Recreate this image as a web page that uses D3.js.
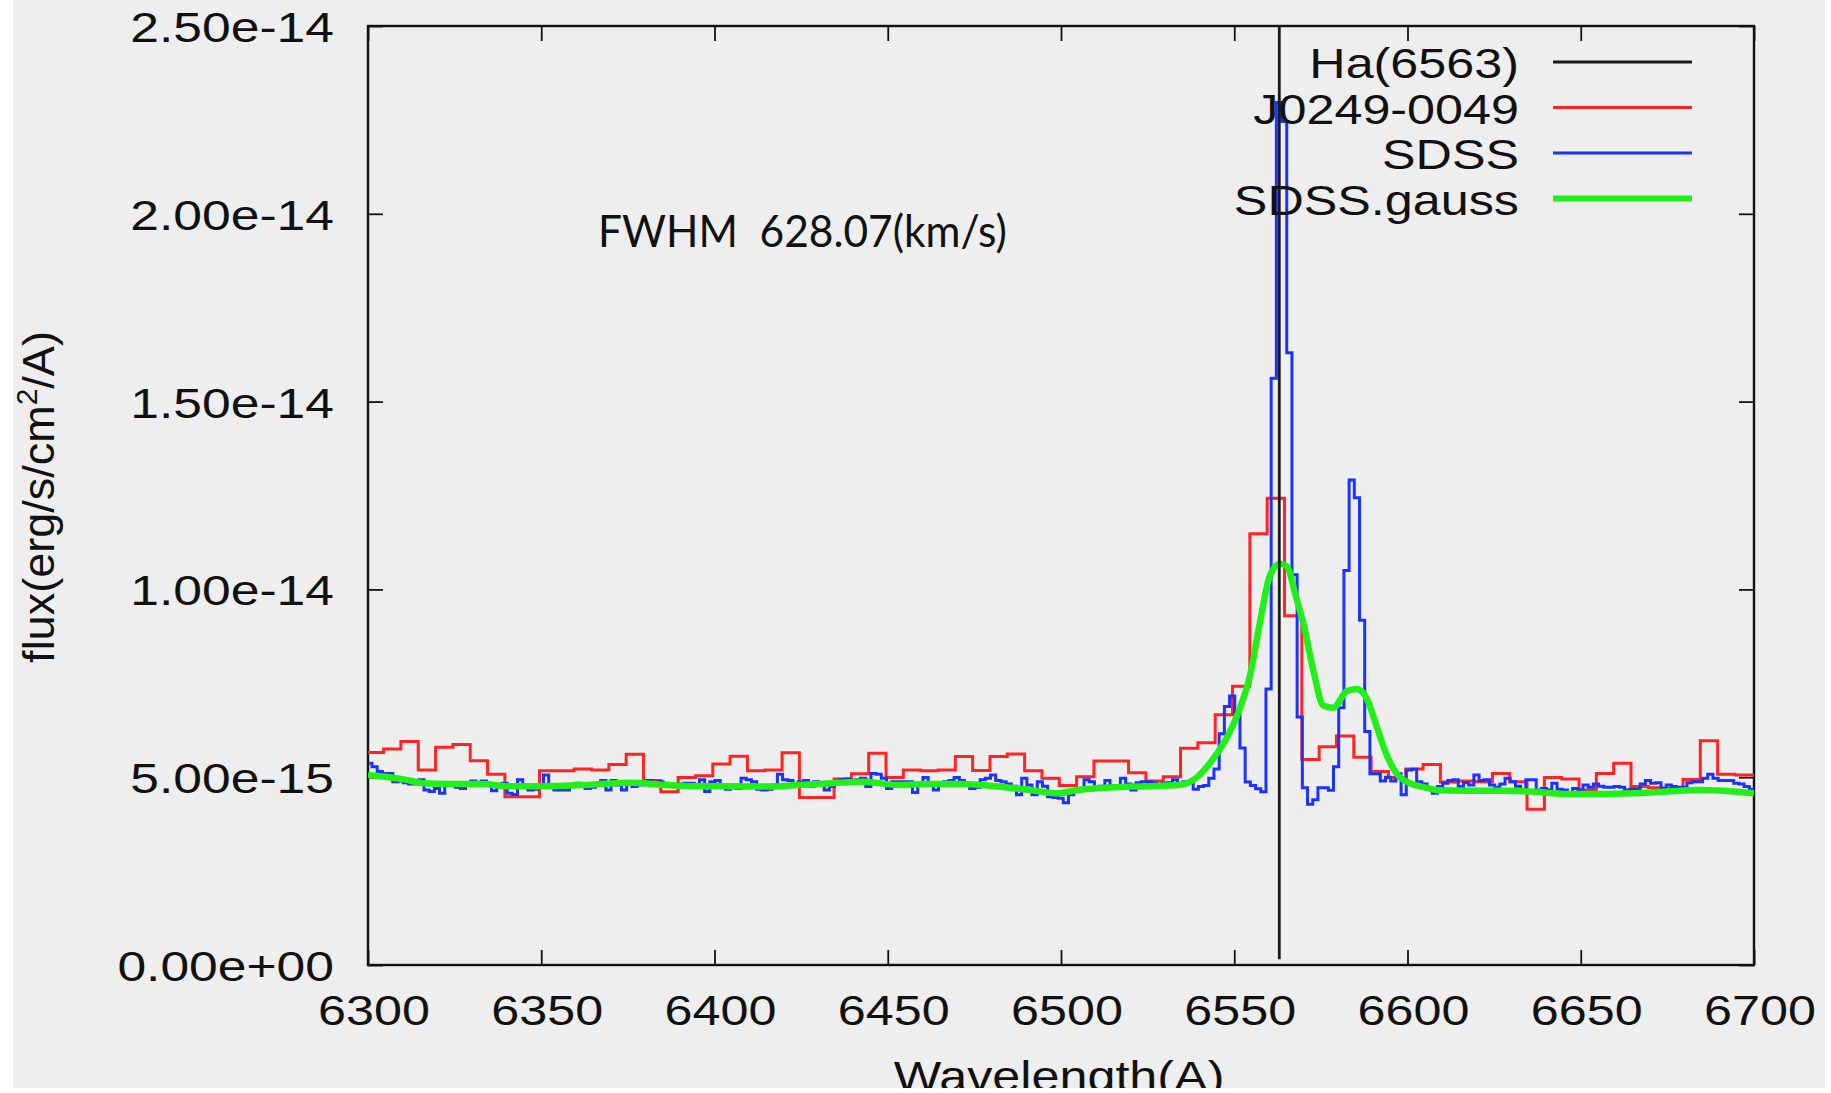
<!DOCTYPE html>
<html>
<head>
<meta charset="utf-8">
<script src="https://cdn.jsdelivr.net/npm/d3@7"></script>
<style>
  html, body { margin: 0; padding: 0; background: #fff; }
  svg { display: block; }
</style>
</head>
<body>
<svg id="chart" width="1831" height="1093"></svg>
<script>
// ---- data (flux in units of 1e-15 erg/s/cm2/A) ----
const fluxUnit = 1e-15;
const xTicks = [6300, 6350, 6400, 6450, 6500, 6550, 6600, 6650, 6700];
const yTicks = [0, 5e-15, 1e-14, 1.5e-14, 2e-14, 2.5e-14];

const seriesNames = ["Ha(6563)", "J0249-0049", "SDSS", "SDSS.gauss"];
const fwhmText = "FWHM  628.07(km/s)";

// H-alpha marker
const haWave = 6563;
const haFlux = [0.15, 25];

// J0249-0049 spectrum, 5 A bins, first bin centre 6297
const redStart = 6297, redStep = 5;
const redFlux = [
  5.66, 5.66, 5.75, 5.95, 5.19, 5.80, 5.87, 5.44, 5.08, 4.48,
  4.48, 5.17, 5.17, 5.22, 5.19, 5.34, 5.61, 4.91, 4.61, 4.99,
  5.04, 5.35, 5.56, 5.17, 5.19, 5.65, 4.46, 4.46, 4.95, 5.09,
  5.64, 4.99, 5.19, 5.17, 5.19, 5.55, 5.18, 5.55, 5.62, 5.17,
  4.97, 4.78, 5.01, 5.43, 5.43, 5.12, 4.90, 5.01, 5.77, 5.92,
  6.66, 7.42, 11.48, 12.43, 9.30, 5.47, 5.81, 6.10, 5.53, 5.15,
  4.99, 5.22, 5.34, 4.87, 4.90, 4.88, 5.10, 4.88, 4.15, 4.99,
  4.95, 4.66, 5.10, 5.37, 4.75, 4.72, 4.70, 4.94, 5.97, 5.08,
  5.06, 5.06
];

// SDSS spectrum, 1.5 A pixels, first pixel centre 6300.4
const sdssStart = 6300.4, sdssStep = 1.5;
const sdssFlux = [
  // 6300 - 6437
  5.37, 5.28, 5.15, 5.10, 5.10, 4.88, 4.90, 4.85, 4.82, 4.82,
  4.93, 4.66, 4.62, 4.70, 4.57, 4.82, 4.82, 4.73, 4.70, 4.84,
  4.90, 4.84, 4.90, 4.84, 4.64, 4.79, 4.84, 4.57, 4.54, 4.93,
  4.79, 4.66, 4.68, 4.73, 5.06, 4.75, 4.66, 4.66, 4.66, 4.79,
  4.84, 4.79, 4.70, 4.73, 4.79, 4.91, 4.66, 4.91, 4.79, 4.66,
  4.82, 4.75, 4.79, 4.88, 4.91, 4.79, 4.88, 4.84, 4.82, 4.79,
  4.82, 4.84, 4.84, 4.79, 4.93, 4.62, 4.88, 4.91, 4.73, 4.68,
  4.79, 4.70, 4.97, 4.93, 4.88, 4.68, 4.66, 4.68, 4.79, 5.08,
  4.93, 4.91, 4.75, 4.88, 4.91, 4.76, 4.88, 4.85, 4.66, 4.75,
  4.85, 4.93,
  // 6438 - 6539
  4.95, 4.88, 4.93, 4.97, 4.75, 5.10, 5.08, 4.97, 4.70, 4.88,
  4.88, 4.88, 4.88, 4.59, 4.79, 4.99, 4.82, 4.66, 4.85, 4.88,
  4.91, 4.99, 4.91, 4.84, 4.70, 4.73, 4.93, 4.97, 5.06, 4.91,
  4.88, 4.82, 4.76, 4.53, 4.97, 4.79, 4.53, 4.88, 4.76, 4.48,
  4.46, 4.44, 4.32, 4.53, 4.62, 4.66, 4.93, 4.88, 4.75, 4.76,
  4.91, 4.76, 4.70, 4.97, 4.82, 4.66, 4.85, 4.88, 4.88, 4.84,
  4.79, 4.84, 4.85, 4.93, 4.79, 4.88, 4.85, 4.68,
  // 6540 - 6597 (Ha + [NII])
  4.75, 4.78, 4.97, 5.22, 6.16, 6.88, 7.16, 6.66, 5.78, 4.87,
  4.78, 4.69, 4.61, 7.35, 15.62, 22.96, 22.46, 16.30, 10.39, 6.60,
  4.72, 4.28, 4.40, 4.72, 4.72, 4.65, 5.28, 6.85, 10.50, 12.91,
  12.44, 9.18, 6.22, 5.09, 5.09, 4.90, 5.00, 4.90, 5.09,
  // 6599 - 6701
  4.53, 5.19, 5.21, 4.88, 4.82, 4.68, 4.57, 4.75, 4.84, 4.91,
  4.93, 4.75, 4.85, 4.79, 5.06, 4.91, 4.93, 4.79, 4.73, 4.82,
  4.97, 4.88, 4.76, 4.66, 4.93, 4.93, 4.66, 4.70, 4.66, 4.84,
  4.68, 4.66, 4.59, 4.70, 4.66, 4.79, 4.73, 4.82, 4.76, 4.73,
  4.73, 4.75, 4.73, 4.66, 4.68, 4.68, 4.82, 4.91, 4.84, 4.85,
  4.70, 4.79, 4.75, 4.73, 4.73, 4.85, 4.88, 4.88, 4.97, 5.08,
  4.97, 4.91, 4.91, 4.91, 4.84, 4.82, 4.75, 4.68, 4.68
];

// gaussian fit to SDSS
const gaussWave = [
  6300, 6305, 6311, 6316, 6323, 6333, 6340, 6350, 6362, 6376,
  6386, 6395, 6405, 6415, 6424, 6434, 6443, 6453, 6462, 6472,
  6481, 6491, 6499, 6505, 6515, 6525, 6534, 6539, 6544, 6548,
  6551.7, 6554.6, 6557.4, 6560.3, 6563.2, 6565.1, 6568, 6569.9, 6572.8, 6575.7,
  6578.6, 6582.4, 6585.3, 6588.2, 6591.1, 6594, 6596.9, 6600.7, 6605.5, 6609.4,
  6617, 6627, 6636, 6646, 6656, 6665, 6675, 6684, 6694, 6700
];
const gaussFlux = [
  5.06, 5.01, 4.93, 4.84, 4.82, 4.82, 4.76, 4.76, 4.79, 4.85,
  4.79, 4.76, 4.76, 4.75, 4.79, 4.84, 4.88, 4.79, 4.82, 4.82,
  4.76, 4.66, 4.57, 4.66, 4.73, 4.76, 4.79, 4.98, 5.50, 6.08,
  6.85, 7.73, 9.11, 10.37, 10.68, 10.62, 9.74, 9.11, 7.85, 6.91,
  6.85, 7.29, 7.35, 7.10, 6.35, 5.59, 5.09, 4.84, 4.72, 4.65,
  4.64, 4.64, 4.62, 4.55, 4.55, 4.57, 4.62, 4.66, 4.62, 4.57
];

// ---- layout ----
const W = 1831, H = 1093;
const plot = { left: 368, right: 1754, top: 26, bottom: 965 };
const SX = 1.17;           // the original picture is stretched horizontally
const font = "'Liberation Sans', Arial, sans-serif";
const colors = { ha: "#1a1a1a", red: "#ff2424", blue: "#1c32ff", green: "#22ee18" };

const svg = d3.select("#chart");

svg.append("rect")
    .attr("x", 13).attr("y", 0)
    .attr("width", 1812).attr("height", 1088)
    .attr("fill", "#eeeeee");

const x = d3.scaleLinear().domain([6300, 6700]).range([plot.left, plot.right]);
const y = d3.scaleLinear().domain([0, 2.5e-14]).range([plot.bottom, plot.top]);

function expLabel(v) {
    let s = v.toExponential(2);
    return s.replace(/e([+-])(\d)$/, "e$10$2");
}

// axes, ticks pointing inward on all sides
const gBottom = svg.append("g")
    .attr("transform", `translate(0,${plot.bottom})`)
    .call(d3.axisBottom(x).tickValues(xTicks).tickSizeInner(-15).tickSizeOuter(0).tickFormat(d => d));
gBottom.selectAll(".tick text")
    .attr("y", null).attr("dy", null)
    .attr("transform", `translate(5.5,60) scale(${SX},1)`);

const gLeft = svg.append("g")
    .attr("transform", `translate(${plot.left},0)`)
    .call(d3.axisLeft(y).tickValues(yTicks).tickSizeInner(-15).tickSizeOuter(0).tickFormat(expLabel));
gLeft.selectAll(".tick text")
    .attr("x", null).attr("dy", null)
    .attr("transform", `translate(-34,15.5) scale(1.2,1)`);

const gTop = svg.append("g")
    .attr("transform", `translate(0,${plot.top})`)
    .call(d3.axisTop(x).tickValues(xTicks).tickSizeInner(-15).tickSizeOuter(0).tickFormat(""));
const gRight = svg.append("g")
    .attr("transform", `translate(${plot.right},0)`)
    .call(d3.axisRight(y).tickValues(yTicks).tickSizeInner(-15).tickSizeOuter(0).tickFormat(""));

[gBottom, gLeft, gTop, gRight].forEach(g => {
    g.attr("color", "#111").attr("font-family", font).attr("font-size", 43);
    g.select(".domain").remove();
    g.selectAll(".tick line").attr("stroke-width", 1.8);
    g.selectAll(".tick text").attr("fill", "#111");
});

svg.append("rect")
    .attr("x", plot.left).attr("y", plot.top)
    .attr("width", plot.right - plot.left).attr("height", plot.bottom - plot.top)
    .attr("fill", "none").attr("stroke", "#111").attr("stroke-width", 2.4);

// data lines
svg.append("clipPath").attr("id", "clip")
    .append("rect")
    .attr("x", plot.left).attr("y", plot.top)
    .attr("width", plot.right - plot.left).attr("height", plot.bottom - plot.top);

const gData = svg.append("g").attr("clip-path", "url(#clip)");

const redData = redFlux.map((f, i) => ({ w: redStart + i * redStep, f: f * fluxUnit }));
const sdssData = sdssFlux.map((f, i) => ({ w: sdssStart + i * sdssStep, f: f * fluxUnit }));
const gaussData = gaussWave.map((w, i) => ({ w: w, f: gaussFlux[i] * fluxUnit }));
const haData = haFlux.map(f => ({ w: haWave, f: f * fluxUnit }));

const stepLine = d3.line().x(d => x(d.w)).y(d => y(d.f)).curve(d3.curveStep);
const smoothLine = d3.line().x(d => x(d.w)).y(d => y(d.f)).curve(d3.curveMonotoneX);
const straight = d3.line().x(d => x(d.w)).y(d => y(d.f));

gData.append("path").datum(redData)
    .attr("d", stepLine).attr("fill", "none")
    .attr("stroke", colors.red).attr("stroke-width", 3);

gData.append("path").datum(sdssData)
    .attr("d", stepLine).attr("fill", "none")
    .attr("stroke", colors.blue).attr("stroke-width", 3);

gData.append("path").datum(gaussData)
    .attr("d", smoothLine).attr("fill", "none")
    .attr("stroke", colors.green).attr("stroke-width", 6.5)
    .attr("stroke-linejoin", "round");

gData.append("path").datum(haData)
    .attr("d", straight).attr("fill", "none")
    .attr("stroke", colors.ha).attr("stroke-width", 2.8);

// legend
const legendRows = [
    { name: seriesNames[0], color: colors.ha, width: 3 },
    { name: seriesNames[1], color: colors.red, width: 3 },
    { name: seriesNames[2], color: colors.blue, width: 3 },
    { name: seriesNames[3], color: colors.green, width: 6 }
];
const legend = svg.append("g")
    .attr("font-family", font).attr("font-size", 43).attr("fill", "#111");
legendRows.forEach((r, i) => {
    const ly = 62 + i * 45.5;
    legend.append("text")
        .attr("text-anchor", "end")
        .attr("transform", `translate(1519,${ly + 16}) scale(${SX},1)`)
        .text(r.name);
    legend.append("line")
        .attr("x1", 1553).attr("x2", 1692)
        .attr("y1", ly).attr("y2", ly)
        .attr("stroke", r.color).attr("stroke-width", r.width);
});

// FWHM annotation
const fw = svg.append("text")
    .attr("font-family", "Lato, 'Open Sans', sans-serif")
    .attr("font-size", 44.5)
    .attr("fill", "#111")
    .style("white-space", "pre")
    .text(fwhmText);
const fwLen = fw.node().getComputedTextLength();
fw.attr("transform", `translate(598,247) scale(${409 / fwLen},1)`);

// axis titles
const yTitle = svg.append("text")
    .attr("font-family", font).attr("font-size", 45).attr("fill", "#111")
    .attr("text-anchor", "middle")
    .attr("transform", "translate(54,497) rotate(-90)");
yTitle.append("tspan").text("flux(erg/s/cm");
yTitle.append("tspan").attr("font-size", 30).attr("dy", -17).text("2");
yTitle.append("tspan").attr("dy", 17).text("/A)");

svg.append("text")
    .attr("font-family", font).attr("font-size", 43).attr("fill", "#111")
    .attr("text-anchor", "middle")
    .attr("transform", `translate(1059,1091) scale(${SX},1)`)
    .text("Wavelength(A)");

// white border of the original screenshot
svg.append("rect").attr("x", 0).attr("y", 1088).attr("width", W).attr("height", H - 1088).attr("fill", "#fff");
</script>
</body>
</html>
